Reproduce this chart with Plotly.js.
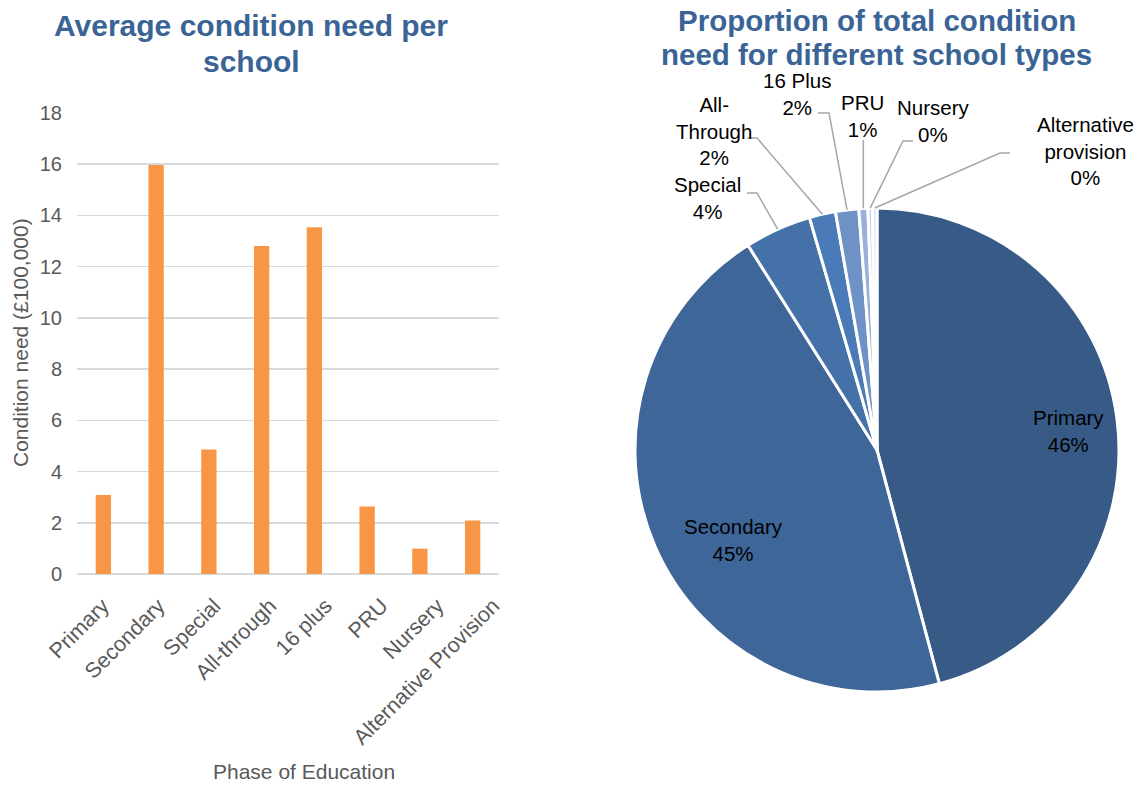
<!DOCTYPE html>
<html>
<head>
<meta charset="utf-8">
<script src="https://cdn.plot.ly/plotly-3.0.1.min.js"></script>
<style>html,body{margin:0;padding:0;background:#fff;}#chart{width:1140px;height:785px;}</style>
</head>
<body>
<div id="chart"></div>
<script>
// ---- data ----
const barCategories = ["Primary", "Secondary", "Special", "All-through", "16 plus", "PRU", "Nursery", "Alternative Provision"];
const barValues = [3.08, 15.97, 4.86, 12.81, 13.54, 2.64, 0.99, 2.09];

const pieLabels = ["Primary", "Secondary", "Special", "All-Through", "16 Plus", "PRU", "Nursery", "Alternative provision"];
const pieDisplayLabels = ["Primary", "Secondary", "Special", "All-<br>Through", "16 Plus", "PRU", "Nursery", "Alternative<br>provision"];
const pieValues = [45.85, 45.2, 4.45, 1.75, 1.55, 0.6, 0.3, 0.3];
const pieColors = ["#375A87", "#3E6699", "#4471A8", "#4A7BB8", "#6E91C6", "#9AB0DA", "#C3D0EA", "#DCE3F2"];

const leftTitleLines = ["Average condition need per", "school"];
const rightTitleLines = ["Proportion of total condition", "need for different school types"];

// ---- layout helpers ----
const W = 1140, H = 785;
const px = x => x / W;
const py = y => 1 - y / H;
const FONT = "Liberation Sans, Arial, sans-serif";

// pie geometry (pixels)
const pieBox = {left: 635, right: 1119, top: 207, bottom: 693};
const cx = (pieBox.left + pieBox.right) / 2;
const cy = (pieBox.top + pieBox.bottom) / 2;
const R = (pieBox.right - pieBox.left) / 2;

// label placements (pixel positions of label text) and leader line elbows
const labelCfg = [
  {tx: 1068, ty: 431},                                  // Primary (inside)
  {tx: 733, ty: 540},                                   // Secondary (inside)
  {tx: 707, ty: 198, hx: 747, ex: 757, ey: 193},        // Special
  {tx: 714, ty: 131, hx: 747, ex: 757, ey: 138},        // All-Through
  {tx: 797, ty: 94, hx: 818, ex: 829, ey: 113},         // 16 Plus
  {tx: 862, ty: 116, vertical: true, ey: 140},          // PRU
  {tx: 933, ty: 121, hx: 913, ex: 903, ey: 141},        // Nursery
  {tx: 1085, ty: 151, hx: 1010, ex: 1000, ey: 153}      // Alternative provision
];

const total = pieValues.reduce((a, b) => a + b, 0);
let cum = 0;
const annotations = [];
const shapes = [];
pieValues.forEach((v, i) => {
  const mid = (cum + v / 2) / total * 360;
  cum += v;
  const rad = mid * Math.PI / 180;
  const edgeX = cx + R * Math.sin(rad);
  const edgeY = cy - R * Math.cos(rad);
  const pct = Math.round(v / total * 100) + "%";
  const c = labelCfg[i];
  annotations.push({
    xref: "paper", yref: "paper", x: px(c.tx), y: py(c.ty),
    xanchor: "center", yanchor: "middle", showarrow: false,
    text: pieDisplayLabels[i] + "<br>" + pct,
    font: {family: FONT, size: 20.5, color: "#000000"}
  });
  if (c.ex !== undefined || c.vertical) {
    let path;
    if (c.vertical) {
      path = `M ${px(edgeX)} ${py(c.ey)} L ${px(edgeX)} ${py(edgeY)}`;
    } else {
      path = `M ${px(c.hx)} ${py(c.ey)} L ${px(c.ex)} ${py(c.ey)} L ${px(edgeX)} ${py(edgeY)}`;
    }
    shapes.push({type: "path", xref: "paper", yref: "paper", path: path,
      line: {color: "#A6A6A6", width: 1.5}, layer: "above"});
  }
});

// titles (one annotation per line for tighter line spacing)
const leftTitleY = [26, 62];
leftTitleLines.forEach((t, i) => annotations.push({
  xref: "paper", yref: "paper", x: px(251), y: py(leftTitleY[i]), xanchor: "center", yanchor: "middle",
  showarrow: false, text: "<b>" + t + "</b>",
  font: {family: FONT, size: 30, color: "#3A6496"}
}));
const rightTitleY = [21, 55];
rightTitleLines.forEach((t, i) => annotations.push({
  xref: "paper", yref: "paper", x: px(877), y: py(rightTitleY[i]), xanchor: "center", yanchor: "middle",
  showarrow: false, text: "<b>" + t + "</b>",
  font: {family: FONT, size: 29.5, color: "#3A6496"}
}));
// axis titles
annotations.push({
  xref: "paper", yref: "paper", x: px(304), y: py(771), xanchor: "center", yanchor: "middle",
  showarrow: false, text: "Phase of Education",
  font: {family: FONT, size: 21, color: "#595959"}
});
annotations.push({
  xref: "paper", yref: "paper", x: px(20), y: py(343), xanchor: "center", yanchor: "middle",
  showarrow: false, text: "Condition need (£100,000)", textangle: -90,
  font: {family: FONT, size: 21, color: "#595959"}
});

const catIndex = barCategories.map((_, i) => i);

const barTrace = {
  type: "bar", x: barCategories, y: barValues,
  marker: {color: "#F79646"}, xaxis: "x", yaxis: "y", hoverinfo: "x+y"
};
// invisible carrier trace for the (slightly wider spaced) category label axis
const labelTrace = {
  type: "scatter", mode: "markers", x: catIndex, y: catIndex.map(() => 0),
  marker: {opacity: 0, size: 1}, xaxis: "x2", yaxis: "y2", hoverinfo: "skip", showlegend: false
};
const pieTrace = {
  type: "pie", labels: pieLabels, values: pieValues,
  sort: false, direction: "clockwise", rotation: 0,
  textinfo: "none",
  marker: {colors: pieColors, line: {color: "#FFFFFF", width: 3}},
  domain: {x: [px(pieBox.left), px(pieBox.right)], y: [py(pieBox.bottom), py(pieBox.top)]},
  showlegend: false
};

const layout = {
  width: W, height: H, autosize: false,
  margin: {l: 0, r: 0, t: 0, b: 0, pad: 0},
  paper_bgcolor: "#FFFFFF", plot_bgcolor: "rgba(0,0,0,0)",
  showlegend: false,
  bargap: 0.71,
  font: {family: FONT, color: "#595959"},
  xaxis: {
    domain: [px(77), px(499)],
    showticklabels: false,
    showgrid: false, showline: false, ticks: "", zeroline: false,
    fixedrange: true, automargin: false
  },
  yaxis: {
    domain: [py(574), py(113)], range: [0, 18], dtick: 2, tick0: 0,
    tickfont: {family: FONT, size: 20, color: "#595959"},
    showgrid: true, gridcolor: "#D9D9D9", gridwidth: 1.5,
    zeroline: true, zerolinecolor: "#D9D9D9", zerolinewidth: 1.5,
    showline: false, ticks: "", ticklabelstandoff: 14,
    fixedrange: true, automargin: false
  },
  xaxis2: {
    domain: [px(75), px(521)], anchor: "y2",
    range: [-0.5, barCategories.length - 0.5],
    tickmode: "array", tickvals: catIndex, ticktext: barCategories,
    tickangle: -45,
    tickfont: {family: FONT, size: 21.5, color: "#595959"},
    showgrid: false, showline: false, ticks: "", zeroline: false,
    ticklabelstandoff: 14,
    fixedrange: true, automargin: false
  },
  yaxis2: {
    domain: [py(574), py(113)], anchor: "x2", range: [0, 1],
    showgrid: false, showline: false, showticklabels: false, ticks: "", zeroline: false,
    fixedrange: true, automargin: false
  },
  annotations: annotations,
  shapes: shapes
};

Plotly.newPlot("chart", [barTrace, labelTrace, pieTrace], layout, {displayModeBar: false, staticPlot: true});
</script>
</body>
</html>
